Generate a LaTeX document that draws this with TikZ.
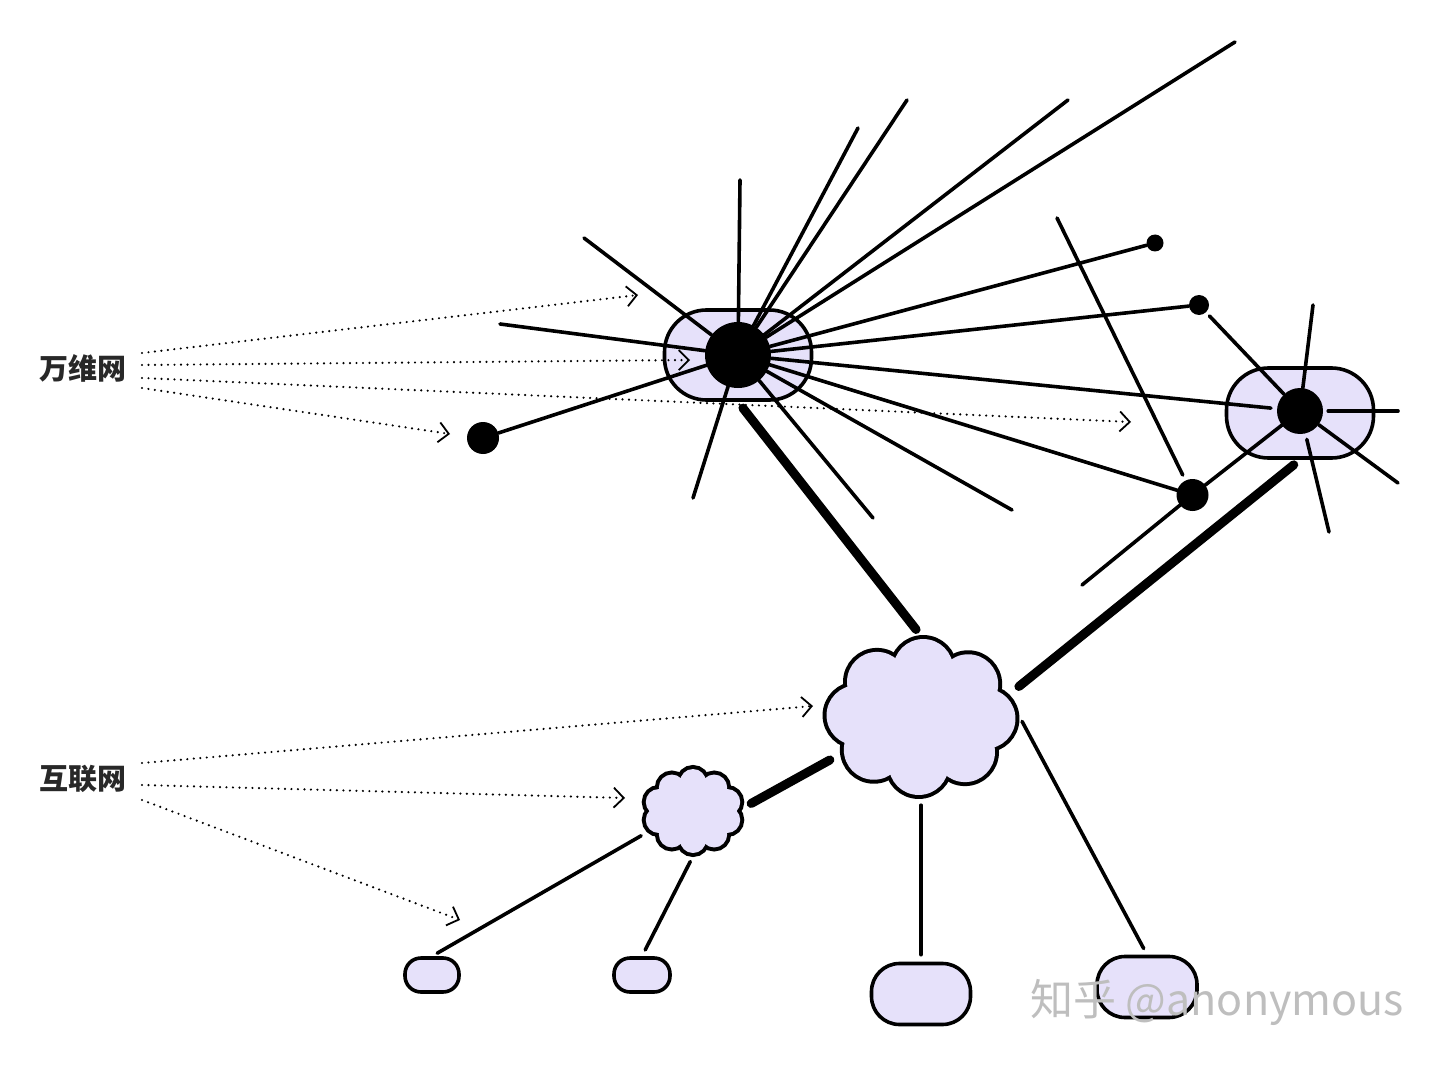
\documentclass[tikz,border=0pt]{standalone}
\usepackage{fontspec}
\newfontfamily\cjk{Noto Sans CJK SC}
\usetikzlibrary{shapes.geometric,shapes.misc,arrows.meta}
\definecolor{lav}{RGB}{230,225,250}
\definecolor{lbl}{RGB}{40,40,40}
\definecolor{wm}{RGB}{190,190,190}
\begin{document}
\begin{tikzpicture}[x=1pt,y=-1pt,
 spoke/.style={line width=3.6pt, line cap=round},
 trunk/.style={line width=9pt, line cap=round},
 capsule/.style={draw, line width=3.6pt, fill=lav, rounded corners=42pt, minimum width=147pt, minimum height=90pt, inner sep=0pt},
 hubdot/.style={circle, fill=black, inner sep=0pt},
 cloudbox/.style={ellipse, inner sep=0pt},
 pill/.style={draw, line width=3.6pt, fill=lav, inner sep=0pt},
 dotarrow/.style={line width=2.4pt, dash pattern=on 0pt off 6.5pt, line cap=round, -{Straight Barb[length=10pt,width=20pt,line width=1.8pt]}},
 lab/.style={font=\cjk\bfseries\fontsize{29pt}{29pt}\selectfont, text=lbl, inner sep=0pt}
]
\fill[white] (0,0) rectangle (1440,1067);
\useasboundingbox (0,0) rectangle (1440,1067);

% capsules (hosts)
\node[capsule] (mcap) at (738,355) {};
\node[capsule] (rcap) at (1300,413) {};

% dots
\node[hubdot, minimum size=66pt] (mhc) at (738,355) {};
\node[hubdot, minimum size=46pt] (rhc) at (1300,411) {};
\node[hubdot, minimum size=32pt] (ldot) at (483,438) {};
\node[hubdot, minimum size=17pt] (sdot1) at (1155,243) {};
\node[hubdot, minimum size=20pt] (sdot2) at (1199,305) {};
\node[hubdot, minimum size=32pt] (bdot) at (1192.5,495) {};

% clouds: anchor ellipses + scalloped outline (stroke of puffs, then fill)
\node[cloudbox, minimum width=197pt, minimum height=162pt] (bigcloud) at (921,717) {};
\node[cloudbox, minimum width=106pt, minimum height=90pt] (scloud) at (693,811) {};
\foreach \k in {0,...,7}
  \draw[line width=8pt] (bigcloud.center) ++({64.5*cos(45*\k+2)},{48*sin(45*\k+2)}) circle[radius=30];
\foreach \k in {0,...,9}
  \draw[line width=8pt] (scloud.center) ++({36*cos(36*\k+90)},{29*sin(36*\k+90)}) circle[radius=13];
\foreach \k in {0,...,7}
  \fill[lav] (bigcloud.center) ++({64.5*cos(45*\k+2)},{48*sin(45*\k+2)}) circle[radius=30];
\fill[lav] (bigcloud.center) ellipse[x radius=66, y radius=50];
\foreach \k in {0,...,9}
  \fill[lav] (scloud.center) ++({36*cos(36*\k+90)},{29*sin(36*\k+90)}) circle[radius=13];
\fill[lav] (scloud.center) ellipse[x radius=37, y radius=30];

% bottom pills
\node[pill, minimum width=54pt, minimum height=34pt, rounded corners=16pt] (box1) at (432,975) {};
\node[pill, minimum width=56pt, minimum height=34pt, rounded corners=16pt] (box2) at (642,975) {};
\node[pill, minimum width=99pt, minimum height=61pt, rounded corners=28pt] (box3) at (921,994) {};
\node[pill, minimum width=100pt, minimum height=61pt, rounded corners=28pt] (box4) at (1147,987) {};

% spoke ends of the main hub
\coordinate (s1) at (584,238);
\coordinate (s2) at (740,180);
\coordinate (s3) at (858,128);
\coordinate (s4) at (907,100);
\coordinate (s5) at (1068,100);
\coordinate (s6) at (1235,42);
\coordinate (s11) at (1012,510);
\coordinate (s12) at (873,518);
\coordinate (s13) at (693,498);
\coordinate (s14) at (500,324);
\foreach \n in {s1,s2,s3,s4,s5,s6,s11,s12,s13,s14}
  \draw[spoke] (\n) -- (mhc);
\foreach \n in {sdot1,sdot2,bdot,ldot}
  \draw[spoke] (\n) -- (mhc);
\draw[spoke, shorten >=6pt] (mhc) -- (rhc);

% right hub spokes
\coordinate (r1) at (1313,305);
\coordinate (r2) at (1398,411);
\coordinate (r3) at (1398,483);
\coordinate (r4) at (1329,532);
\draw[spoke] (r1) -- (rhc);
\draw[spoke, shorten >=5pt] (r2) -- (rhc);
\draw[spoke] (r3) -- (rhc);
\draw[spoke, shorten >=6pt] (r4) -- (rhc);
\draw[spoke, shorten <=5pt] (sdot2) -- (rhc);
\draw[spoke] (bdot) -- (rhc);
\coordinate (s16) at (1082,585);
\draw[spoke] (s16) -- (bdot);
\coordinate (s17) at (1057,218);
\draw[spoke, shorten >=6pt] (s17) -- (bdot);

% trunks
\draw[trunk, shorten <=8pt, shorten >=8pt] (mcap.south) -- (bigcloud.north);
\draw[trunk, shorten <=6pt, shorten >=8pt] (bigcloud.16) -- (rcap.south);
\draw[trunk, shorten <=6pt, shorten >=6pt] (bigcloud.205) -- (scloud.5);

% cloud to pills
\draw[spoke, shorten <=7pt, shorten >=7pt] (bigcloud.south) -- (box3.north);
\draw[spoke, shorten <=5pt, shorten >=7pt] (bigcloud.east) -- (box4.north);
\draw[spoke, shorten <=6pt, shorten >=6pt] (scloud.205) -- (box1.north);
\draw[spoke, shorten <=6pt, shorten >=7pt] (scloud.south) -- (box2.north);

% labels
\node[lab] (www) at (83,368) {万维网};
\node[lab] (inet) at (83,779) {互联网};

% dotted arrows from the labels
\coordinate (wa) at (142,353);
\coordinate (wb) at (142,365);
\coordinate (wc) at (142,378);
\coordinate (wd) at (142,388);
\coordinate (wa2) at (638,295);
\coordinate (wb2) at (690,360);
\coordinate (wc2) at (1131,422);
\coordinate (wd2) at (450,434);
\draw[dotarrow] (wa) -- (wa2);
\draw[dotarrow] (wb) -- (wb2);
\draw[dotarrow] (wc) -- (wc2);
\draw[dotarrow] (wd) -- (wd2);
\coordinate (ia) at (142,763);
\coordinate (ib) at (142,785);
\coordinate (ic) at (142,800);
\coordinate (ia2) at (813,706);
\coordinate (ib2) at (625,798);
\coordinate (ic2) at (460,920);
\draw[dotarrow] (ia) -- (ia2);
\draw[dotarrow] (ib) -- (ib2);
\draw[dotarrow] (ic) -- (ic2);

% watermark
\node[font=\cjk\fontsize{43pt}{43pt}\selectfont, text=wm, inner sep=0pt] (wmark) at (1217,1002) {知乎 @anonymous};
\end{tikzpicture}
\end{document}
